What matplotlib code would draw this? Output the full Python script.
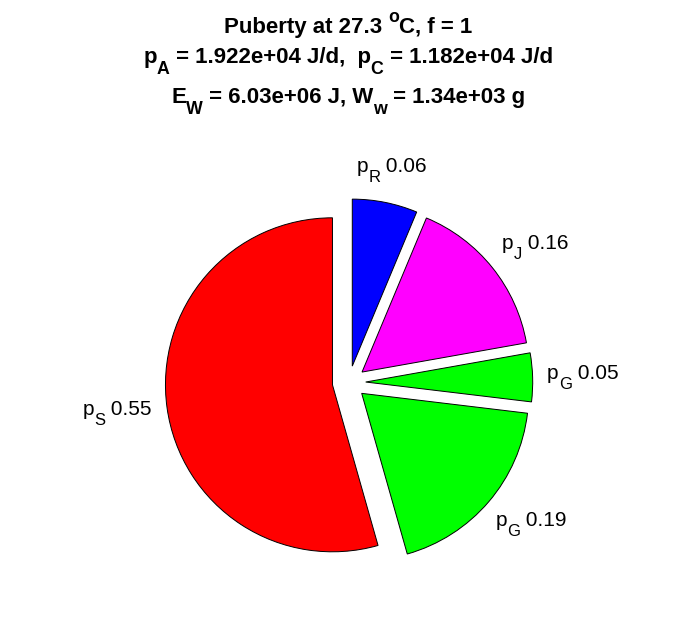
import numpy as np
import matplotlib
matplotlib.use('Agg')
import matplotlib.pyplot as plt
from matplotlib.transforms import IdentityTransform

# 各项能量通量所占比例
fractions = [0.063, 0.159, 0.047, 0.187, 0.544]
flux_names = ['R', 'J', 'G', 'G', 'S']
flux_values = ['0.06', '0.16', '0.05', '0.19', '0.55']
colors = ['#0000ff', '#ff00ff', '#00ff00', '#00ff00', '#ff0000']
explode = [0.1, 0.1, 0.1, 0.1, 0.1]

# 标题：每段为 (文字, 'n'正常 / 'sub'下标 / 'sup'上标)
title_lines = [
    [('Puberty at 27.3 ', 'n'), ('o', 'sup'), ('C, f = 1', 'n')],
    [('p', 'n'), ('A', 'sub'), (' = 1.922e+04 J/d,  p', 'n'), ('C', 'sub'), (' = 1.182e+04 J/d', 'n')],
    [('E', 'n'), ('W', 'sub'), (' = 6.03e+06 J, W', 'n'), ('w', 'sub'), (' = 1.34e+03 g', 'n')],
]
title_baselines = [33, 63, 103]  # 像素，从上往下

plt.rcParams['font.family'] = ['Liberation Sans', 'DejaVu Sans']

W, H = 696, 618
fig = plt.figure(figsize=(W / 100, H / 100), dpi=100)
renderer = fig.canvas.get_renderer()


def rich_text(x, y, segs, size, weight='normal', ha='center', va='baseline'):
    """在像素坐标 (x, y) 处画带上下标的文字（类似 MATLAB 的 tex 解释器）"""
    em = size * fig.dpi / 72
    objs = []
    for s, kind in segs:
        fs = size * 0.8 if kind != 'n' else size
        t = fig.text(0, 0, s, fontsize=fs, fontweight=weight, ha='left', va='baseline',
                     transform=IdentityTransform())
        objs.append((t, kind))
    widths = [t.get_window_extent(renderer).width for t, _ in objs]
    total = sum(widths)
    if ha == 'center':
        x0 = x - total / 2
    elif ha == 'right':
        x0 = x - total
    else:
        x0 = x
    cap = 0.716 * em
    drop = 0.5 * em if any(k == 'sub' for _, k in segs) else 0
    if va == 'center':
        base = y - (cap - drop) / 2
    else:
        base = y
    for (t, kind), wd in zip(objs, widths):
        dy = {'n': 0, 'sub': -0.5 * em, 'sup': 0.48 * em}[kind]
        t.set_position((x0, base + dy))
        x0 += wd


# 饼图中心 (349, 382.5) 像素，半径 167 像素
R = 167.0
cx, cy = 349.0, H - 382.5
ax = fig.add_axes([(cx - 2 * R) / W, (cy - 1.3 * R) / H, 4 * R / W, 2.6 * R / H])

wedges, _ = ax.pie(fractions, colors=colors, explode=explode, startangle=90,
                   counterclock=False,
                   wedgeprops=dict(edgecolor='black', linewidth=0.7))
ax.set_xlim(-2, 2)
ax.set_ylim(-1.3, 1.3)
ax.set_aspect('auto')
ax.axis('off')

# 标签放在离（偏移后）扇形中心 1.2 倍半径处
for w, name, val in zip(wedges, flux_names, flux_values):
    ang = np.deg2rad((w.theta1 + w.theta2) / 2)
    c, s = np.cos(ang), np.sin(ang)
    x = w.center[0] + 1.2 * w.r * c
    y = w.center[1] + 1.2 * w.r * s
    if abs(c) > 0.5:
        x += 0.1 * np.sign(c)
    px, py = ax.transData.transform((x, y))
    rich_text(px, py, [('p', 'n'), (name, 'sub'), (' ' + val, 'n')], 15, ha='center', va='center')

for segs, b in zip(title_lines, title_baselines):
    rich_text(348, H - b, segs, 16, weight='bold')

plt.savefig('out.png', dpi=100)
